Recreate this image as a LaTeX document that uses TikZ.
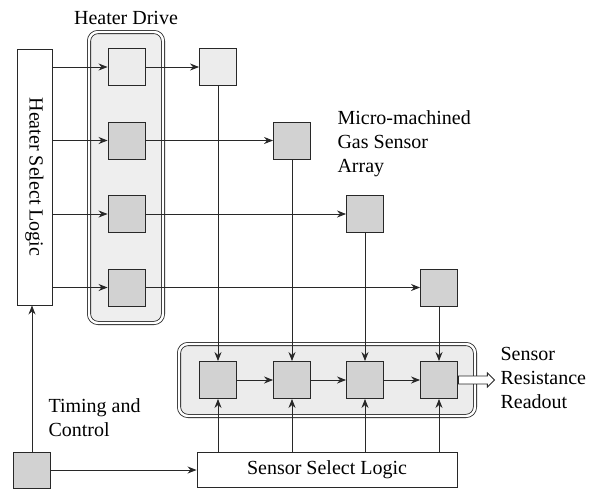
\documentclass[tikz,border=0pt]{standalone}
\usepackage{fontspec}
\setmainfont{Liberation Serif}
\newfontfamily\labelfont{Liberation Serif}
\usetikzlibrary{arrows.meta,shapes.arrows}
\definecolor{linegray}{RGB}{40,40,40}
\definecolor{cellgray}{RGB}{210,210,210}
\definecolor{lightcell}{RGB}{236,236,236}
\definecolor{groupgray}{RGB}{238,238,238}

\tikzset{
    cell/.style={draw=linegray, fill=cellgray, line width=0.9pt, minimum size=37pt, inner sep=0pt},
    logic/.style={draw=linegray, fill=white, line width=0.9pt, inner sep=0pt},
    group/.style={draw=linegray, fill=groupgray, line width=0.8pt, double=white,
        double distance=2.4pt, rounded corners=9pt, inner sep=0pt},
    wire/.style={draw=linegray, line width=0.9pt, ->},
}

\begin{document}
\begin{tikzpicture}[x=1pt, y=-1pt, >={Stealth[length=9pt,width=7pt]},
    every node/.style={font=\labelfont\fontsize{20}{24}\selectfont}]
    \useasboundingbox (0,0) rectangle (598,491);

    % groups behind everything
    \node (drive) [group, minimum width=74pt, minimum height=291pt] at (126,177.5) {};
    \node (readout) [group, fill=gray!15, minimum width=296pt, minimum height=72pt] at (327,380) {};

    % logic blocks
    \node (hsl) [logic, rotate=-90, minimum width=256pt, minimum height=35pt] at (34.5,177) {Heater Select Logic};
    \node (ssl) [logic, minimum width=260pt, minimum height=35pt] at (327,470) {Sensor Select Logic};
    \node (timing) [cell, minimum height=36pt] at (32,470) {};

    % heater drive cells
    \node (h1) [cell, fill=lightcell] at (126.5,67) {};
    \node (h2) [cell] at (126.5,140.5) {};
    \node (h3) [cell] at (126.5,214) {};
    \node (h4) [cell] at (126.5,287.5) {};

    % sensor array
    \node (s1) [cell, fill=lightcell] at (218,67) {};
    \node (s2) [cell] at (292,140.5) {};
    \node (s3) [cell] at (365,214) {};
    \node (s4) [cell] at (439,287.5) {};

    % readout cells
    \node (r1) [cell] at (218,380) {};
    \node (r2) [cell] at (292,380) {};
    \node (r3) [cell] at (365,380) {};
    \node (r4) [cell] at (439,380) {};
    \node (out) [single arrow, draw=linegray, fill=white, line width=0.9pt, anchor=tail,
        minimum height=36pt, minimum width=14pt, inner sep=3.5pt,
        single arrow head extend=3pt] at (r4.east) {};

    % labels
    \node (drivelabel) at (126,18) {Heater Drive};
    \node (arraylabel) [anchor=west, align=left] at (334,144) {Micro-machined\\Gas Sensor\\Array};
    \node (outlabel) [anchor=west, align=left] at (497,378) {Sensor\\Resistance\\Readout};
    \node (timinglabel) [anchor=west, align=left] at (45,418) {Timing and\\Control};

    % heater select -> drive -> sensors
    \draw[wire] (h1.west -| hsl.north) -- (h1.west);
    \draw[wire] (h2.west -| hsl.north) -- (h2.west);
    \draw[wire] (h3.west -| hsl.north) -- (h3.west);
    \draw[wire] (h4.west -| hsl.north) -- (h4.west);
    \draw[wire] (h1.east) -- (s1.west);
    \draw[wire] (h2.east) -- (s2.west);
    \draw[wire] (h3.east) -- (s3.west);
    \draw[wire] (h4.east) -- (s4.west);

    % sensors -> readout chain
    \draw[wire] (s1.south) -- (r1.north);
    \draw[wire] (s2.south) -- (r2.north);
    \draw[wire] (s3.south) -- (r3.north);
    \draw[wire] (s4.south) -- (r4.north);
    \draw[wire] (r1.east) -- (r2.west);
    \draw[wire] (r2.east) -- (r3.west);
    \draw[wire] (r3.east) -- (r4.west);

    % sensor select
    \draw[wire] (r1.south |- ssl.north) -- (r1.south);
    \draw[wire] (r2.south |- ssl.north) -- (r2.south);
    \draw[wire] (r3.south |- ssl.north) -- (r3.south);
    \draw[wire] (r4.south |- ssl.north) -- (r4.south);

    % timing
    \draw[wire] (timing.east) -- (timing.east -| ssl.west);
    \draw[wire] (timing.north) -- (timing.north |- hsl.east);
\end{tikzpicture}
\end{document}
